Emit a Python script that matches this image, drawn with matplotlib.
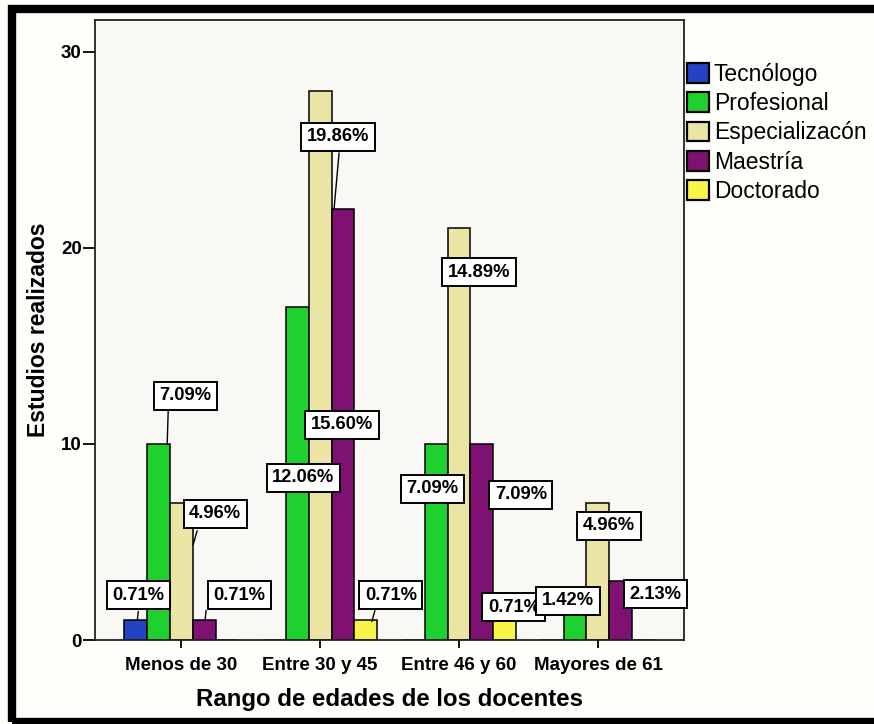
import matplotlib
matplotlib.use('Agg')
import matplotlib.pyplot as plt
from matplotlib.patches import Rectangle, Patch
from matplotlib.transforms import offset_copy
import numpy as np

# datos
categorias = ['Menos de 30', 'Entre 30 y 45', 'Entre 46 y 60', 'Mayores de 61']
estudios = ['Tecnólogo', 'Profesional', 'Especializacón', 'Maestría', 'Doctorado']
tecnologo = [1, 0, 0, 0]
profesional = [10, 17, 10, 2]
especializacion = [7, 28, 21, 7]
maestria = [1, 22, 10, 3]
doctorado = [0, 1, 1, 0]

colores = ['#2443c4', '#1fd12e', '#ebe5a5', '#7f1172', '#f8f548']

# posicion de las etiquetas: (grupo, serie, dx px, dy px)
etiquetas = [
    (0, 0, 3, 25), (0, 1, 27, 48), (0, 2, 34, -11), (0, 3, 35, 25),
    (1, 1, 6, -171), (1, 2, 18, -46), (1, 3, -1, -216), (1, 4, 25, 25),
    (2, 1, -4, -45), (2, 2, 20, -44), (2, 3, 39, -51), (2, 4, 9, 13),
    (3, 1, -7, 0), (3, 2, 11, -23), (3, 3, 35, -13),
]
# lineas guia: (grupo, serie, inicio px, fin px) relativos a la parte alta de la barra
guias = [
    (0, 0, (3, 9), (2, 0)), (0, 1, (10, 34), (9, 0)), (0, 2, (16, -28), (12, -42)),
    (0, 3, (2, 10), (1, 0)), (1, 2, (19, -62), (14, -118)), (1, 4, (9, 10), (6, -1)),
]

plt.rcParams['font.family'] = ['Liberation Sans', 'DejaVu Sans']

series = [tecnologo, profesional, especializacion, maestria, doctorado]
total = sum(sum(s) for s in series)

fig = plt.figure(figsize=(8.74, 7.24), dpi=100, facecolor='#fefefb')
ax = fig.add_axes([0.1087, 0.116, 0.674, 0.856])
ax.set_facecolor('#faf8f4')

x = np.arange(len(categorias))
ancho = 0.165
for j, (nombre, valores) in enumerate(zip(estudios, series)):
    ax.bar(x + (j - 2) * ancho, valores, width=ancho, color=colores[j],
           edgecolor='black', linewidth=1.1, label=nombre, zorder=2)

for g, s, (sx, sy), (ex, ey) in guias:
    xb = x[g] + (s - 2) * ancho
    fin = offset_copy(ax.transData, fig=fig, x=ex, y=ey, units='dots')
    ax.annotate('', xy=(xb, series[s][g]), xycoords=fin, xytext=(sx - ex, sy - ey),
                textcoords='offset pixels', zorder=4,
                arrowprops=dict(arrowstyle='-', color='black', lw=1, shrinkA=0, shrinkB=0))

for g, s, dx, dy in etiquetas:
    valor = series[s][g]
    xb = x[g] + (s - 2) * ancho
    ax.annotate(f'{valor / total * 100:.2f}%', xy=(xb, valor), xytext=(dx, dy),
                textcoords='offset pixels', ha='center', va='center',
                fontsize=13.2, fontweight='bold', zorder=5,
                bbox=dict(boxstyle='square,pad=0.3', fc='white', ec='black', lw=1.4))

ax.set_xlim(-0.62, 3.62)
ax.set_ylim(0, 31.6)
ax.set_xticks(x)
ax.set_xticklabels(categorias, fontsize=13.5, fontweight='bold')
ax.set_yticks([0, 10, 20, 30])
ax.set_yticklabels(['0', '10', '20', '30'], fontsize=13.5, fontweight='bold')
ax.tick_params(axis='x', length=6, width=1.3, pad=6)
ax.tick_params(axis='y', length=8.5, width=1.3, pad=1)
for sp in ax.spines.values():
    sp.set_linewidth(1.3)
    sp.set_color('#222222')

ax.set_xlabel('Rango de edades de los docentes', fontsize=17.3, fontweight='bold', labelpad=10)
ax.set_ylabel('Estudios realizados', fontsize=16.5, fontweight='bold', labelpad=8)

handles = [Patch(facecolor=c, edgecolor='black', linewidth=1.6) for c in colores]
fig.legend(handles, estudios, loc='upper left', bbox_to_anchor=(0.786, 0.913),
           frameon=False, fontsize=16.5, handlelength=0.95, handleheight=0.95,
           handletextpad=0.22, labelspacing=0.27, borderpad=0, borderaxespad=0)

# marco negro
fig.patches.append(Rectangle((12 / 874, 2 / 724), 1.1, 1 - 11 / 724, transform=fig.transFigure,
                             fill=False, edgecolor='black', linewidth=6, clip_on=False))

fig.savefig('out.png', dpi=100, facecolor=fig.get_facecolor())
plt.close(fig)
